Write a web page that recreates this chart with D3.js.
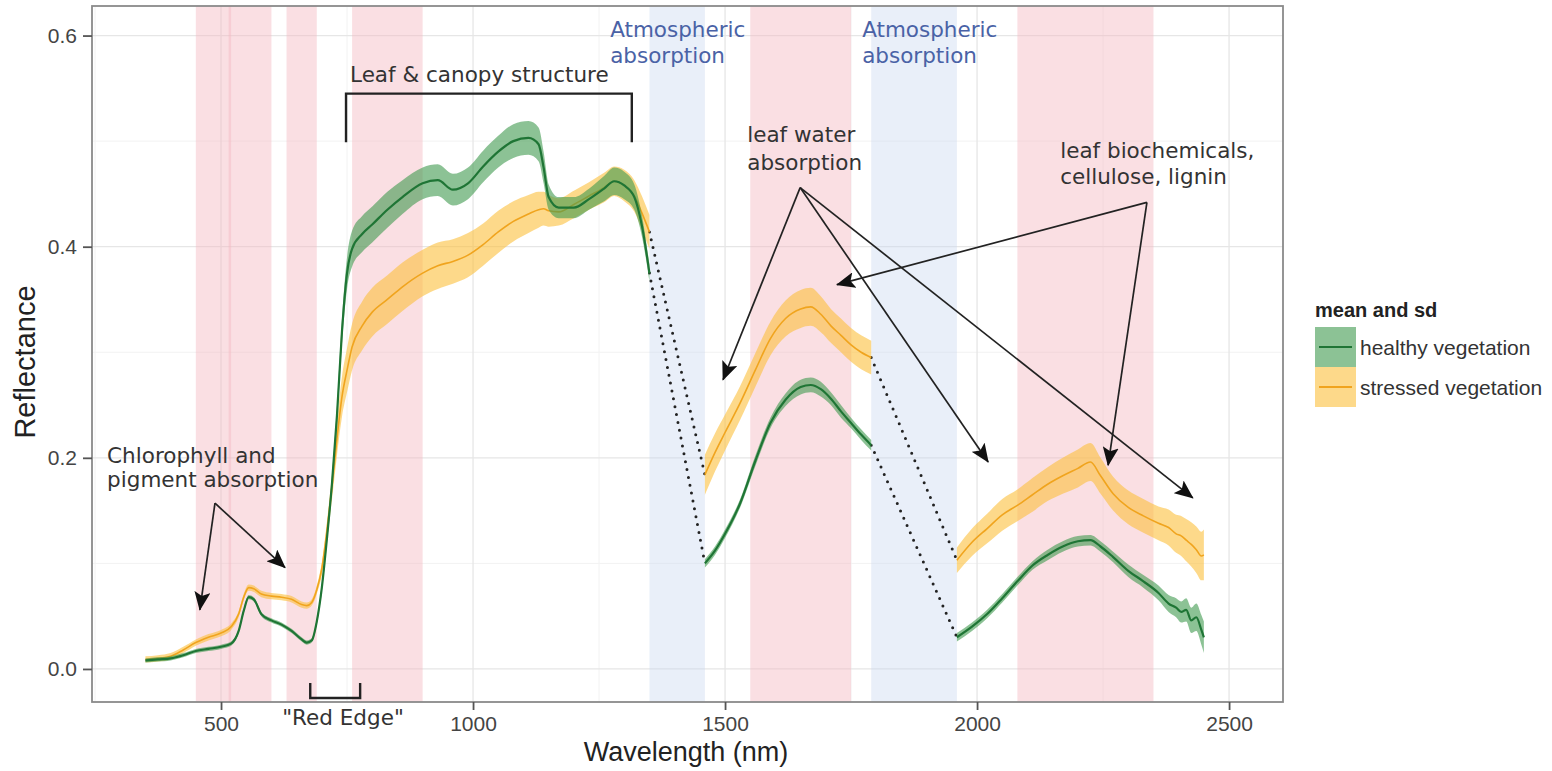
<!DOCTYPE html>
<html>
<head>
<meta charset="utf-8">
<script src="https://cdn.jsdelivr.net/npm/d3@7"></script>
<style>
  body { margin: 0; background: #fff; }
  svg { display: block; }
</style>
</head>
<body>
<div id="chart"></div>
<script>
// ---- data ----
const wave1 = [350, 375, 400, 425, 450, 475, 500, 520, 535, 545, 555, 565, 580, 600, 620, 640, 660, 670, 680,
  690, 700, 710, 720, 730, 740,
  750, 760, 780, 800, 830, 860, 900, 930, 960, 990, 1020, 1050, 1080, 1110, 1130, 1140, 1150, 1170, 1200, 1230, 1260, 1280, 1300, 1320, 1335, 1350];
const healthy1 = [0.008, 0.009, 0.010, 0.013, 0.017, 0.019, 0.021, 0.024, 0.036, 0.055, 0.068, 0.066, 0.052, 0.046, 0.042, 0.036, 0.028, 0.025, 0.027,
  0.045, 0.077, 0.123, 0.175, 0.240, 0.320,
  0.375, 0.398, 0.412, 0.421, 0.435, 0.447, 0.460, 0.463, 0.454, 0.460, 0.476, 0.490, 0.500, 0.503, 0.497, 0.475, 0.447, 0.437, 0.437, 0.445, 0.455, 0.462, 0.458, 0.447, 0.420, 0.375];
const healthySd1 = [0.002, 0.002, 0.002, 0.002, 0.002, 0.002, 0.002, 0.002, 0.002, 0.002, 0.002, 0.002, 0.002, 0.002, 0.002, 0.002, 0.002, 0.002, 0.002,
  0.003, 0.004, 0.005, 0.007, 0.009, 0.012,
  0.015, 0.017, 0.017, 0.017, 0.017, 0.016, 0.015, 0.015, 0.015, 0.015, 0.015, 0.015, 0.016, 0.016, 0.016, 0.015, 0.012, 0.010, 0.010, 0.010, 0.012, 0.013, 0.013, 0.012, 0.010, 0.008];
const stressed1 = [0.009, 0.010, 0.012, 0.018, 0.025, 0.030, 0.034, 0.040, 0.052, 0.068, 0.077, 0.076, 0.071, 0.069, 0.068, 0.066, 0.061, 0.060, 0.063,
  0.075, 0.095, 0.130, 0.172, 0.218, 0.258,
  0.283, 0.305, 0.325, 0.338, 0.350, 0.362, 0.375, 0.382, 0.386, 0.392, 0.402, 0.414, 0.424, 0.431, 0.435, 0.436, 0.434, 0.433, 0.440, 0.448, 0.456, 0.462, 0.458, 0.448, 0.432, 0.414];
const stressedSd1 = [0.003, 0.003, 0.003, 0.003, 0.003, 0.003, 0.003, 0.003, 0.003, 0.003, 0.003, 0.003, 0.003, 0.003, 0.003, 0.003, 0.003, 0.003, 0.003,
  0.004, 0.006, 0.009, 0.012, 0.016, 0.019,
  0.021, 0.022, 0.023, 0.023, 0.023, 0.023, 0.022, 0.022, 0.021, 0.021, 0.020, 0.020, 0.019, 0.018, 0.017, 0.016, 0.015, 0.013, 0.013, 0.013, 0.014, 0.014, 0.015, 0.015, 0.016, 0.016];

const wave2 = [1460, 1480, 1500, 1530, 1560, 1590, 1620, 1650, 1670, 1690, 1710, 1730, 1750, 1770, 1790];
const healthy2 = [0.100, 0.112, 0.128, 0.157, 0.197, 0.233, 0.255, 0.267, 0.269, 0.265, 0.256, 0.244, 0.233, 0.222, 0.212];
const healthySd2 = [0.004, 0.004, 0.004, 0.004, 0.005, 0.005, 0.006, 0.007, 0.007, 0.007, 0.006, 0.006, 0.005, 0.005, 0.005];
const stressed2 = [0.184, 0.205, 0.224, 0.252, 0.283, 0.313, 0.332, 0.341, 0.343, 0.336, 0.325, 0.316, 0.307, 0.300, 0.295];
const stressedSd2 = [0.019, 0.018, 0.017, 0.016, 0.016, 0.016, 0.017, 0.018, 0.018, 0.017, 0.016, 0.016, 0.016, 0.016, 0.016];

const wave3 = [1960, 1990, 2020, 2050, 2080, 2110, 2140, 2170, 2200, 2225, 2245, 2270, 2300, 2330, 2360, 2380, 2395, 2405, 2415, 2425, 2435, 2445, 2450];
const healthy3 = [0.030, 0.040, 0.052, 0.067, 0.083, 0.098, 0.108, 0.116, 0.121, 0.122, 0.116, 0.106, 0.093, 0.083, 0.072, 0.062, 0.058, 0.054, 0.056, 0.046, 0.049, 0.037, 0.030];
const healthySd3 = [0.004, 0.004, 0.004, 0.004, 0.004, 0.004, 0.005, 0.005, 0.005, 0.005, 0.005, 0.005, 0.006, 0.006, 0.007, 0.008, 0.009, 0.010, 0.011, 0.012, 0.013, 0.014, 0.015];
const stressed3 = [0.103, 0.120, 0.133, 0.146, 0.155, 0.165, 0.175, 0.183, 0.190, 0.196, 0.183, 0.166, 0.153, 0.145, 0.138, 0.134, 0.128, 0.126, 0.122, 0.118, 0.113, 0.107, 0.108];
const stressedSd3 = [0.012, 0.013, 0.014, 0.015, 0.015, 0.016, 0.016, 0.017, 0.018, 0.018, 0.017, 0.016, 0.016, 0.016, 0.016, 0.017, 0.018, 0.019, 0.020, 0.021, 0.022, 0.023, 0.024];

// shaded wavelength regions
const pinkBands = [[450, 520], [515, 600], [630, 690], [760, 900], [1550, 1750], [2080, 2350]];
const blueBands = [[1350, 1460], [1790, 1960]];

const xTicks = [500, 1000, 1500, 2000, 2500];
const yTicks = [0, 0.2, 0.4, 0.6];
const seriesNames = ["healthy vegetation", "stressed vegetation"];

// ---- layout ----
const W = 1552, H = 771;
const GREEN_LINE = "#1f7535", GREEN_FILL = "#3f9a4f";
const ORANGE_LINE = "#f0a41e", ORANGE_FILL = "#fbbf3c";
const SANS = "'Liberation Sans', Arial, sans-serif";

const x = d3.scaleLinear().domain([244, 2607]).range([92, 1283]);
const y = d3.scaleLinear().domain([-0.0313, 0.628]).range([702, 6]);

const svg = d3.select("#chart").append("svg").attr("width", W).attr("height", H);

const defs = svg.append("defs");
defs.append("marker")
  .attr("id", "arrow")
  .attr("markerUnits", "userSpaceOnUse")
  .attr("markerWidth", 20).attr("markerHeight", 16)
  .attr("refX", 18).attr("refY", 8)
  .attr("orient", "auto")
  .append("path")
  .attr("d", "M0,0 L19,8 L0,16 L4,8 Z")
  .attr("fill", "#111");

// panel background + grid
const panel = svg.append("g");
panel.append("rect")
  .attr("x", x.range()[0]).attr("y", y.range()[1])
  .attr("width", x.range()[1] - x.range()[0])
  .attr("height", y.range()[0] - y.range()[1])
  .attr("fill", "#fff");

const minorX = [250, 750, 1250, 1750, 2250];
const minorY = [0.1, 0.3, 0.5];
panel.selectAll(".gx2").data(minorX).join("line")
  .attr("x1", d => x(d)).attr("x2", d => x(d))
  .attr("y1", y.range()[0]).attr("y2", y.range()[1])
  .attr("stroke", "#f2f2f2").attr("stroke-width", 1);
panel.selectAll(".gy2").data(minorY).join("line")
  .attr("y1", d => y(d)).attr("y2", d => y(d))
  .attr("x1", x.range()[0]).attr("x2", x.range()[1])
  .attr("stroke", "#f2f2f2").attr("stroke-width", 1);
panel.selectAll(".gx").data(xTicks).join("line")
  .attr("x1", d => x(d)).attr("x2", d => x(d))
  .attr("y1", y.range()[0]).attr("y2", y.range()[1])
  .attr("stroke", "#e6e6e6").attr("stroke-width", 1.3);
panel.selectAll(".gy").data(yTicks).join("line")
  .attr("y1", d => y(d)).attr("y2", d => y(d))
  .attr("x1", x.range()[0]).attr("x2", x.range()[1])
  .attr("stroke", "#e6e6e6").attr("stroke-width", 1.3);

// shaded bands
panel.selectAll(".pink").data(pinkBands).join("rect")
  .attr("x", d => x(d[0])).attr("width", d => x(d[1]) - x(d[0]))
  .attr("y", y.range()[1]).attr("height", y.range()[0] - y.range()[1])
  .attr("fill", "#f5b8c0").attr("fill-opacity", 0.45);
panel.selectAll(".blue").data(blueBands).join("rect")
  .attr("x", d => x(d[0])).attr("width", d => x(d[1]) - x(d[0]))
  .attr("y", y.range()[1]).attr("height", y.range()[0] - y.range()[1])
  .attr("fill", "#c9d8f0").attr("fill-opacity", 0.4);

// ---- series ----
function zip(w, m, s) {
  return w.map((d, i) => ({ w: d, m: m[i], s: s[i] }));
}
const healthySegs = [zip(wave1, healthy1, healthySd1), zip(wave2, healthy2, healthySd2), zip(wave3, healthy3, healthySd3)];
const stressedSegs = [zip(wave1, stressed1, stressedSd1), zip(wave2, stressed2, stressedSd2), zip(wave3, stressed3, stressedSd3)];

const area = d3.area()
  .x(d => x(d.w)).y0(d => y(d.m - d.s)).y1(d => y(d.m + d.s))
  .curve(d3.curveMonotoneX);
const line = d3.line()
  .x(d => x(d.w)).y(d => y(d.m))
  .curve(d3.curveMonotoneX);

// dotted connectors across the gaps
const gapLines = [];
[healthySegs, stressedSegs].forEach(segs => {
  for (let i = 0; i < segs.length - 1; i++) {
    gapLines.push([segs[i][segs[i].length - 1], segs[i + 1][0]]);
  }
});
svg.append("g").selectAll("line").data(gapLines).join("line")
  .attr("x1", d => x(d[0].w)).attr("y1", d => y(d[0].m))
  .attr("x2", d => x(d[1].w)).attr("y2", d => y(d[1].m))
  .attr("stroke", "#222").attr("stroke-width", 3)
  .attr("stroke-linecap", "round").attr("stroke-dasharray", "0 8");

const gS = svg.append("g");
gS.selectAll(".ribbon").data(stressedSegs).join("path")
  .attr("d", area).attr("fill", ORANGE_FILL).attr("fill-opacity", 0.6);
gS.selectAll(".ln").data(stressedSegs).join("path")
  .attr("d", line).attr("fill", "none").attr("stroke", ORANGE_LINE).attr("stroke-width", 1.6);

const gH = svg.append("g");
gH.selectAll(".ribbon").data(healthySegs).join("path")
  .attr("d", area).attr("fill", GREEN_FILL).attr("fill-opacity", 0.6);
gH.selectAll(".ln").data(healthySegs).join("path")
  .attr("d", line).attr("fill", "none").attr("stroke", GREEN_LINE).attr("stroke-width", 2.2);

// panel border
svg.append("rect")
  .attr("x", x.range()[0]).attr("y", y.range()[1])
  .attr("width", x.range()[1] - x.range()[0])
  .attr("height", y.range()[0] - y.range()[1])
  .attr("fill", "none").attr("stroke", "#8a8a8a").attr("stroke-width", 1.8);

// ---- axes ----
const xAxis = svg.append("g")
  .attr("transform", `translate(0,${y.range()[0]})`)
  .call(d3.axisBottom(x).tickValues(xTicks).tickFormat(d3.format("d")).tickSize(8).tickPadding(6));
const yAxis = svg.append("g")
  .attr("transform", `translate(${x.range()[0]},0)`)
  .call(d3.axisLeft(y).tickValues(yTicks).tickFormat(d3.format(".1f")).tickSize(9).tickPadding(6));
[xAxis, yAxis].forEach(a => {
  a.select(".domain").remove();
  a.selectAll(".tick line").attr("stroke", "#555").attr("stroke-width", 1.8);
  a.selectAll(".tick text").attr("fill", "#444")
    .style("font-family", SANS).style("font-size", "21px");
});

svg.append("text")
  .attr("x", 686).attr("y", 761)
  .attr("text-anchor", "middle").attr("fill", "#222")
  .style("font-family", SANS).style("font-size", "27px")
  .text("Wavelength (nm)");
svg.append("text")
  .attr("transform", "translate(35,362) rotate(-90)")
  .attr("text-anchor", "middle").attr("fill", "#222")
  .style("font-family", SANS).style("font-size", "29px")
  .text("Reflectance");

// ---- annotations (data coordinates) ----
const ann = svg.append("g")
  .style("font-family", "'DejaVu Sans', Verdana, sans-serif").style("font-size", "21.5px");

const labels = [
  { w: 274, v: 0.195, t: "Chlorophyll and", c: "#333" },
  { w: 274, v: 0.172, t: "pigment absorption", c: "#333" },
  { w: 756, v: 0.556, t: "Leaf & canopy structure", c: "#333" },
  { w: 1272, v: 0.599, t: "Atmospheric", c: "#4a62a6" },
  { w: 1272, v: 0.574, t: "absorption", c: "#4a62a6" },
  { w: 1772, v: 0.599, t: "Atmospheric", c: "#4a62a6" },
  { w: 1772, v: 0.574, t: "absorption", c: "#4a62a6" },
  { w: 1544, v: 0.499, t: "leaf water", c: "#333" },
  { w: 1544, v: 0.473, t: "absorption", c: "#333" },
  { w: 2165, v: 0.484, t: "leaf biochemicals,", c: "#333" },
  { w: 2165, v: 0.459, t: "cellulose, lignin", c: "#333" }
];
ann.selectAll("text.lbl").data(labels).join("text")
  .attr("x", d => x(d.w)).attr("y", d => y(d.v))
  .attr("fill", d => d.c).text(d => d.t);

ann.append("text")
  .attr("x", x(742)).attr("y", y(-0.053))
  .attr("text-anchor", "middle").attr("fill", "#333")
  .text("\"Red Edge\"");

const arrows = [
  [[488, 0.157], [458, 0.056]],
  [[488, 0.157], [627, 0.096]],
  [[1649, 0.456], [1496, 0.274]],
  [[1649, 0.456], [2022, 0.196]],
  [[1649, 0.456], [2428, 0.162]],
  [[2337, 0.442], [2260, 0.193]],
  [[2337, 0.442], [1722, 0.364]]
];
svg.append("g").selectAll("line").data(arrows).join("line")
  .attr("x1", d => x(d[0][0])).attr("y1", d => y(d[0][1]))
  .attr("x2", d => x(d[1][0])).attr("y2", d => y(d[1][1]))
  .attr("stroke", "#222").attr("stroke-width", 1.7)
  .attr("marker-end", "url(#arrow)");

// brackets
const brackets = [
  { w0: 748, w1: 1315, top: 0.545, end: 0.499 },
  { w0: 677, w1: 776, top: -0.0275, end: -0.0133 }
];
svg.append("g").selectAll("path").data(brackets).join("path")
  .attr("d", d => `M${x(d.w0)},${y(d.end)} L${x(d.w0)},${y(d.top)} L${x(d.w1)},${y(d.top)} L${x(d.w1)},${y(d.end)}`)
  .attr("fill", "none").attr("stroke", "#222").attr("stroke-width", 2.4);

// ---- legend ----
const leg = svg.append("g").attr("transform", "translate(1315,300)")
  .style("font-family", SANS);
leg.append("text").attr("x", 0).attr("y", 17)
  .style("font-size", "20px").style("font-weight", "bold").attr("fill", "#222")
  .text("mean and sd");
const legColors = [[GREEN_FILL, GREEN_LINE], [ORANGE_FILL, ORANGE_LINE]];
const item = leg.selectAll(".item").data(seriesNames).join("g")
  .attr("transform", (d, i) => `translate(0,${27 + i * 40})`);
item.append("rect").attr("width", 41).attr("height", 40)
  .attr("fill", (d, i) => legColors[i][0]).attr("fill-opacity", 0.6);
item.append("line").attr("x1", 4).attr("x2", 37).attr("y1", 20).attr("y2", 20)
  .attr("stroke", (d, i) => legColors[i][1]).attr("stroke-width", 2);
item.append("text").attr("x", 45).attr("y", 28)
  .style("font-size", "21px").attr("fill", "#333")
  .text(d => d);
</script>
</body>
</html>
